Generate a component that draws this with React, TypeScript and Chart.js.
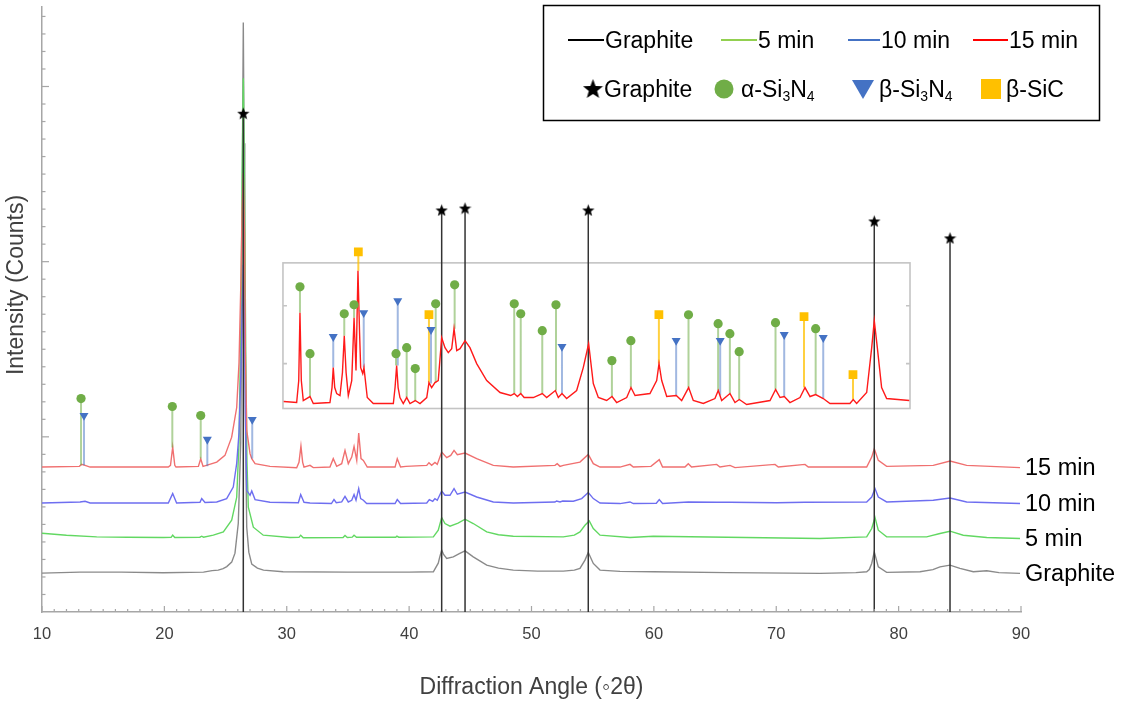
import React, { useEffect, useRef } from "react";
import { Chart, registerables } from "chart.js";

Chart.register(...registerables);

const FONT = '"Liberation Sans", Arial, Helvetica, sans-serif';

// ---------- axis / labels ----------
const xTickLabels = [10, 20, 30, 40, 50, 60, 70, 80, 90];
const X_MIN = 10;
const X_MAX = 90;
const Y_MAX = 607;
const Y_MINOR = 17.56; // one minor tick of the intensity axis (arbitrary counts)
const xTitle = "Diffraction Angle (\u25E62\u03B8)";
const yTitle = "Intensity (Counts)";
const seriesNames = ["Graphite", "5 min", "10 min", "15 min"];

// ---------- XRD patterns (2θ, intensity incl. stacking offset) ----------
const graphiteCurve: [number, number][] = [
  [10.0, 39], [13.1, 40], [16.5, 40], [19.9, 39.3], [23.2, 40], [23.9, 41.5], [24.4, 42], [24.8, 43.5],
  [25.1, 45.5], [25.5, 50], [25.77, 59], [26.04, 89], [26.24, 170], [26.33, 315], [26.39, 480], [26.45, 591],
  [26.51, 470], [26.57, 300], [26.66, 150], [26.73, 85], [26.9, 60], [27.14, 48], [27.6, 44], [28.1, 42],
  [29.7, 40.3], [35.0, 40], [40.0, 40], [41.98, 40.3], [42.38, 49], [42.5, 55], [42.66, 62], [42.8, 58],
  [43.07, 53.7], [43.61, 55.3], [44.1, 58.5], [44.57, 61.3], [45.24, 55.3], [46.34, 47], [47.3, 44],
  [48.51, 42], [50.5, 41], [52.6, 41], [53.5, 42], [53.96, 43.7], [54.37, 52], [54.64, 59.7], [55.05, 48.7],
  [55.6, 42], [57.23, 40.7], [59.95, 40.3], [66.0, 39.5], [73.57, 38.7], [76.5, 39.5], [77.39, 40.3],
  [77.6, 42.5], [77.8, 48.7], [78.01, 60.3], [78.34, 45.3], [79.02, 39.7], [81.75, 40.3], [82.8, 42.5],
  [83.38, 45.3], [84.2, 47], [85.01, 43.7], [86.1, 40.3], [87.2, 41.3], [88.2, 39.5], [89.92, 38.7],
];

const min5Curve: [number, number][] = [
  [10.0, 79], [12.0, 77], [14.47, 75.3], [17.0, 75], [19.91, 74.7], [20.55, 74.8], [20.68, 77], [20.85, 74.7],
  [22.9, 75], [23.05, 76], [23.2, 75], [24.0, 77], [24.82, 80.3], [25.5, 92], [25.91, 115], [26.1, 170],
  [26.25, 290], [26.35, 430], [26.45, 535], [26.55, 420], [26.65, 260], [26.75, 150], [26.86, 105],
  [27.27, 85], [28.08, 77], [30.27, 74.7], [31.0, 74.8], [31.14, 77], [31.35, 74.5], [34.6, 74.7],
  [34.76, 76.7], [34.95, 74.7], [35.35, 75], [35.5, 77], [35.7, 75], [38.9, 75], [39.0, 76], [39.15, 75],
  [41.98, 75.3], [42.38, 82], [42.66, 94.7], [42.93, 88.7], [43.34, 86], [44.0, 89], [44.57, 93],
  [45.24, 88.7], [46.34, 80.3], [47.3, 77.5], [48.51, 76], [52.6, 75.3], [53.5, 77], [53.96, 80.3],
  [54.37, 87], [54.72, 91.3], [55.05, 83.7], [55.6, 77], [58.05, 74.7], [59.95, 76], [66.0, 75],
  [73.57, 73.7], [77.39, 75.3], [77.8, 83.7], [78.07, 94.7], [78.34, 82], [79.02, 75.3], [82.29, 75.3],
  [83.38, 78.7], [84.2, 81], [85.28, 77], [87.2, 74.7], [89.92, 73.7],
];

const min10Curve: [number, number][] = [
  [10.0, 109.3], [13.11, 110.3], [13.52, 111], [13.93, 109.3], [20.32, 109.3], [20.68, 118.7], [21.0, 109.3],
  [22.91, 110], [23.05, 113.7], [23.32, 109.7], [24.28, 110.3], [25.09, 113.7], [25.63, 125.3], [25.91, 149],
  [26.1, 180], [26.25, 240], [26.35, 300], [26.45, 348], [26.55, 290], [26.62, 200], [26.73, 122], [27.0, 117],
  [27.14, 121.3], [27.41, 112.7], [28.63, 110], [30.95, 109.5], [31.14, 117.7], [31.41, 110], [31.9, 109.3],
  [33.65, 108.7], [33.86, 112.7], [34.05, 109.5], [34.49, 110.3], [34.76, 116], [35.03, 110.3], [35.31, 112],
  [35.5, 117.7], [35.66, 112], [35.88, 123.7], [36.04, 113.7], [36.26, 112], [36.53, 108.7], [38.85, 108.7],
  [39.03, 112.7], [39.3, 108.7], [41.44, 109.3], [41.65, 112.7], [41.93, 111], [42.11, 113.7], [42.3, 112],
  [42.66, 121.3], [42.93, 117], [43.34, 117], [43.67, 123.7], [43.94, 118], [44.57, 120.3], [45.52, 115.3],
  [46.88, 110.3], [48.51, 109.3], [51.92, 110.3], [52.05, 111.3], [52.33, 110.3], [52.55, 111.3], [53.42, 111],
  [54.1, 113.7], [54.64, 119.7], [55.05, 113.7], [55.6, 109.3], [57.23, 108.7], [58.05, 110.3], [58.32, 108.7],
  [60.2, 109], [60.44, 112.7], [60.71, 108.7], [62.81, 110.3], [65.13, 110], [66.22, 110], [70.03, 109.5],
  [72.35, 110], [77.39, 110.3], [77.8, 115.3], [78.07, 123.7], [78.34, 115.3], [79.02, 110.3], [82.83, 112],
  [84.2, 114.3], [85.56, 110.3], [89.92, 108.7],
];

const min15Curve: [number, number][] = [
  [10.0, 145.3], [13.05, 146], [13.24, 148], [13.52, 147], [13.93, 145.3], [20.32, 145.3], [20.5, 147],
  [20.68, 165.3], [20.85, 147], [20.95, 145.3], [22.78, 146], [22.97, 153.7], [23.16, 146], [23.43, 147],
  [24.28, 150.3], [24.95, 157], [25.5, 175.3], [25.91, 205], [26.1, 250], [26.25, 330], [26.35, 400],
  [26.45, 440], [26.55, 380], [26.62, 260], [26.73, 182], [27.0, 158.7], [27.14, 153.7], [27.41, 148.7],
  [28.63, 146], [30.81, 144.7], [31.0, 150], [31.16, 166.3], [31.3, 150], [31.41, 145.3], [31.9, 147],
  [32.17, 144.7], [33.53, 145.3], [33.8, 153.7], [34.08, 146], [34.49, 148.7], [34.76, 162], [35.03, 148.7],
  [35.31, 155.3], [35.5, 166], [35.72, 152], [35.88, 179.3], [36.07, 153.7], [36.26, 152], [36.58, 145.3],
  [38.85, 145.3], [39.03, 153.7], [39.3, 145.3], [39.74, 146], [41.44, 147], [41.62, 149.7], [41.84, 147],
  [42.11, 150], [42.3, 148], [42.66, 160.3], [43.07, 154.7], [43.4, 157], [43.67, 162], [43.94, 157.7],
  [44.57, 159.3], [45.52, 153.7], [46.88, 147], [48.51, 145.3], [51.92, 147], [52.1, 148.7], [52.33, 146],
  [52.6, 147], [53.96, 150.3], [54.64, 158], [55.05, 148.7], [55.6, 145.3], [57.23, 145.3], [58.05, 148],
  [58.32, 145.3], [59.76, 146], [60.44, 152.7], [60.71, 145.3], [62.54, 145.3], [62.81, 148.7], [63.08, 145.3],
  [65.13, 148], [65.4, 145.3], [66.22, 147], [66.63, 144.7], [69.9, 148], [70.17, 145.3], [72.35, 148],
  [72.62, 145.3], [77.39, 145.3], [77.8, 155.3], [78.01, 163.7], [78.34, 152], [79.02, 146], [82.83, 147],
  [84.2, 151.3], [85.56, 147], [89.92, 144.7],
];

// magnified 15 min pattern shown in the inset (same 2θ scale)
const inset15Curve: [number, number][] = [
  [29.75, 211], [30.81, 210], [30.98, 232], [31.08, 300], [31.19, 232], [31.35, 212], [31.9, 216], [32.17, 209],
  [33.53, 210], [33.7, 225], [33.8, 245], [33.92, 225], [34.08, 219], [34.35, 217], [34.55, 240], [34.7, 277],
  [34.85, 240], [35.03, 217], [35.31, 232], [35.5, 295], [35.66, 242], [35.82, 342], [35.95, 280], [36.04, 245],
  [36.21, 239], [36.31, 245], [36.58, 215], [37.07, 209], [38.71, 209], [38.85, 225], [38.98, 247], [39.1, 225],
  [39.25, 215], [39.52, 209], [39.8, 215], [40.07, 209], [40.5, 212], [40.89, 209], [41.44, 215], [41.62, 230],
  [41.84, 225], [42.11, 230], [42.38, 232], [42.66, 275], [42.93, 265], [43.2, 260], [43.48, 264], [43.67, 284],
  [43.89, 262], [44.16, 264], [44.57, 272], [44.97, 265], [45.52, 249], [46.34, 232], [47.43, 220], [48.3, 217],
  [48.59, 219], [48.85, 216], [49.12, 219], [49.4, 215], [50.15, 215], [50.88, 219], [51.24, 215], [51.95, 222],
  [52.19, 215], [52.49, 219], [52.87, 214], [53.69, 222], [54.23, 245], [54.67, 269], [55.05, 229], [55.46, 215],
  [56.14, 212], [56.58, 216], [56.96, 210], [57.78, 215], [58.13, 225], [58.46, 217], [59.68, 219], [60.23, 232],
  [60.42, 249], [60.64, 232], [61.05, 216], [61.83, 217], [62.27, 212], [62.84, 225], [63.22, 212], [64.04, 209],
  [64.99, 214], [65.26, 222], [65.54, 212], [66.22, 219], [66.63, 210], [66.98, 213], [67.58, 208], [69.49, 212],
  [69.95, 223], [70.31, 215], [70.66, 216], [71.12, 210], [71.94, 215], [72.35, 225], [72.76, 216], [73.22, 218],
  [73.84, 214], [74.39, 209], [76.02, 209], [76.29, 213], [76.57, 209], [77.39, 220], [77.8, 265], [78.01, 292],
  [78.26, 265], [78.61, 225], [79.02, 214], [80.87, 212],
];

// inset frame (2θ range, intensity range, frame ticks)
const insetAngles = [29.69, 80.93];
const insetLevels = [204, 350];
const insetFrameTicks = [249, 307];

// ---------- phase identification (2θ, marker height, stem base) ----------
const graphitePeaks: [number, number][] = [
  [26.45, 500], [42.66, 403], [44.57, 405], [54.64, 403], [78.01, 392], [84.2, 375],
];
const alphaSi3N4: [number, number, number][] = [
  [13.19, 214, 147], [20.65, 206, 165], [22.97, 197, 154], [31.08, 326, 300], [31.9, 259, 216],
  [34.7, 299, 277], [35.5, 308, 295], [38.93, 259, 247], [39.8, 265, 215], [40.5, 244, 212],
  [42.17, 309, 230], [43.72, 328, 284], [48.59, 309, 219], [49.12, 299, 219], [50.88, 282, 219],
  [52.0, 308, 222], [56.57, 252, 216], [58.12, 272, 225], [62.83, 298, 225], [65.25, 289, 222],
  [66.21, 279, 219], [66.97, 261, 213], [69.94, 290, 223], [73.22, 284, 218],
];
const betaSi3N4: [number, number, number][] = [
  [13.43, 197, 147], [23.51, 173, 146], [27.18, 193, 154], [33.8, 276, 245], [36.29, 300, 245],
  [39.07, 312, 247], [41.79, 283, 229], [52.49, 266, 219], [61.82, 272, 217], [65.42, 272, 217],
  [70.65, 278, 216], [73.84, 275, 214],
];
const betaSiC: [number, number, number][] = [
  [35.85, 361, 342], [41.62, 298, 230], [60.41, 298, 249], [72.27, 296, 225], [76.27, 238, 213],
];

// ---------- styles ----------
const curveColors = ["#8a8a8a", "#62d862", "#6e6ef0", "#f07070"];
const insetColor = "#ff1a1a";
const ALPHA = "#70ad47";
const BETA = "#4472c4";
const SIC = "#ffc000";
const legendLineColors = ["#000000", "#92d050", "#4472c4", "#ff0000"];

function makeStar(size: number, color: string): HTMLCanvasElement {
  const c = document.createElement("canvas");
  c.width = size;
  c.height = size;
  const g = c.getContext("2d")!;
  const cx = size / 2;
  const cy = size / 2 + size * 0.05;
  const R = size / 2;
  const r = R * 0.42;
  g.beginPath();
  for (let i = 0; i < 10; i++) {
    const a = -Math.PI / 2 + (i * Math.PI) / 5;
    const rr = i % 2 === 0 ? R : r;
    g.lineTo(cx + rr * Math.cos(a), cy + rr * Math.sin(a));
  }
  g.closePath();
  g.fillStyle = color;
  g.fill();
  return c;
}

type Part = [string, boolean];
function drawRich(ctx: CanvasRenderingContext2D, x: number, yMid: number, parts: Part[], size: number) {
  const base = yMid + size * 0.36;
  let cx = x;
  ctx.textAlign = "left";
  ctx.textBaseline = "alphabetic";
  for (const [t, sub] of parts) {
    const s = sub ? Math.round(size * 0.62) : size;
    ctx.font = `${s}px ${FONT}`;
    ctx.fillText(t, cx, sub ? base + size * 0.18 : base);
    cx += ctx.measureText(t).width;
  }
}

const line = (label: string, pts: [number, number][], color: string, width: number, order: number) => ({
  type: "line" as const,
  label,
  data: pts.map(([x, y]) => ({ x, y })),
  borderColor: color,
  borderWidth: width,
  pointRadius: 0,
  tension: 0,
  fill: false,
  order,
});

const stems = (label: string, list: [number, number, number][], color: string, width: number, order: number) => ({
  type: "line" as const,
  label,
  data: list.flatMap(([x, top, base]) => [{ x, y: base }, { x, y: top }, { x, y: null as any }]),
  borderColor: color,
  borderWidth: width,
  pointRadius: 0,
  spanGaps: false,
  fill: false,
  order,
});

const markers = (label: string, list: [number, number, ...number[]][], style: any, color: string, radius: number, rotation: number, order: number) => ({
  type: "line" as const,
  label,
  data: list.map(([x, top]) => ({ x, y: top })),
  showLine: false,
  pointStyle: style,
  pointRadius: radius,
  pointBackgroundColor: color,
  pointBorderColor: color,
  pointBorderWidth: 0,
  pointRotation: rotation,
  order,
});

export default function App() {
  const ref = useRef<HTMLCanvasElement>(null);

  useEffect(() => {
    if (!ref.current) return;
    const star = makeStar(13, "#000");
    const legendStar = makeStar(21, "#000");
    const curves = [graphiteCurve, min5Curve, min10Curve, min15Curve];

    const frameAndTicks = {
      id: "frameAndTicks",
      beforeDatasetsDraw(chart: any) {
        const { ctx, scales } = chart;
        const x = scales.x;
        const y = scales.y;
        ctx.save();
        // inset frame
        const l = x.getPixelForValue(insetAngles[0]);
        const r = x.getPixelForValue(insetAngles[1]);
        const b = y.getPixelForValue(insetLevels[0]);
        const t = y.getPixelForValue(insetLevels[1]);
        ctx.strokeStyle = "#c4c4c4";
        ctx.lineWidth = 1.6;
        ctx.strokeRect(l, t, r - l, b - t);
        for (const v of insetFrameTicks) {
          const py = y.getPixelForValue(v);
          ctx.beginPath();
          ctx.moveTo(l, py);
          ctx.lineTo(l + 4, py);
          ctx.moveTo(r, py);
          ctx.lineTo(r - 4, py);
          ctx.stroke();
        }
        ctx.restore();
      },
      afterDatasetsDraw(chart: any) {
        const { ctx, scales, chartArea } = chart;
        const x = scales.x;
        const y = scales.y;
        ctx.save();
        ctx.strokeStyle = "#a6a6a6";
        ctx.lineWidth = 1.2;
        for (let v = X_MIN; v <= X_MAX; v += 1) {
          const px = x.getPixelForValue(v);
          const len = v % 10 === 0 ? 6 : 3;
          ctx.beginPath();
          ctx.moveTo(px, chartArea.bottom);
          ctx.lineTo(px, chartArea.bottom - len);
          ctx.stroke();
        }
        for (let k = 1; k * Y_MINOR <= Y_MAX; k++) {
          const py = y.getPixelForValue(k * Y_MINOR);
          const len = k % 10 === 0 ? 7 : 3.5;
          ctx.beginPath();
          ctx.moveTo(chartArea.left, py);
          ctx.lineTo(chartArea.left + len, py);
          ctx.stroke();
        }
        // series names at the end of each pattern
        ctx.fillStyle = "#000";
        ctx.font = `23.5px ${FONT}`;
        ctx.textAlign = "left";
        ctx.textBaseline = "middle";
        curves.forEach((c, i) => {
          const last = c[c.length - 1];
          ctx.fillText(seriesNames[i], x.getPixelForValue(X_MAX) + 4, y.getPixelForValue(last[1]) + 1);
        });
        // y-axis title
        ctx.save();
        ctx.translate(17, 285);
        ctx.rotate(-Math.PI / 2);
        ctx.fillStyle = "#404040";
        ctx.font = `23px ${FONT}`;
        ctx.textAlign = "center";
        ctx.textBaseline = "middle";
        ctx.fillText(yTitle, 0, 0);
        ctx.restore();
        ctx.restore();
      },
      afterDraw(chart: any) {
        const { ctx } = chart;
        ctx.save();
        // legend box
        ctx.fillStyle = "#fff";
        ctx.fillRect(543, 5, 557, 116);
        ctx.strokeStyle = "#000";
        ctx.lineWidth = 1.5;
        ctx.strokeRect(543.5, 5.5, 556, 115);
        const row1 = 40;
        const row2 = 89;
        const fs = 23;
        const lineItems: [number, number, number][] = [
          [568, 604, 605], [721, 757, 758], [848, 880, 881], [973, 1008, 1009],
        ];
        lineItems.forEach(([a, b, tx], i) => {
          ctx.strokeStyle = legendLineColors[i];
          ctx.lineWidth = 2;
          ctx.beginPath();
          ctx.moveTo(a, row1);
          ctx.lineTo(b, row1);
          ctx.stroke();
          ctx.fillStyle = "#000";
          drawRich(ctx, tx, row1, [[seriesNames[i], false]], fs);
        });
        // row 2: phase symbols
        ctx.drawImage(legendStar, 593 - 10.5, row2 - 11);
        ctx.fillStyle = "#000";
        drawRich(ctx, 604, row2, [["Graphite", false]], fs);
        ctx.fillStyle = ALPHA;
        ctx.beginPath();
        ctx.arc(724, row2, 9.5, 0, Math.PI * 2);
        ctx.fill();
        ctx.fillStyle = "#000";
        drawRich(ctx, 741, row2, [["\u03B1-Si", false], ["3", true], ["N", false], ["4", true]], fs);
        ctx.fillStyle = BETA;
        ctx.beginPath();
        ctx.moveTo(852, row2 - 9);
        ctx.lineTo(874, row2 - 9);
        ctx.lineTo(863, row2 + 10);
        ctx.closePath();
        ctx.fill();
        ctx.fillStyle = "#000";
        drawRich(ctx, 879, row2, [["\u03B2-Si", false], ["3", true], ["N", false], ["4", true]], fs);
        ctx.fillStyle = SIC;
        ctx.fillRect(981, row2 - 10, 20, 20);
        ctx.fillStyle = "#000";
        drawRich(ctx, 1006, row2, [["\u03B2-SiC", false]], fs);
        ctx.restore();
      },
    };

    const chart = new Chart(ref.current, {
      type: "line",
      data: {
        datasets: [
          markers("Graphite peaks", graphitePeaks, star, "#000", 6.5, 0, 0),
          markers("\u03B1-Si3N4", alphaSi3N4, "circle", ALPHA, 4.6, 0, 0),
          markers("\u03B2-Si3N4", betaSi3N4, "triangle", BETA, 5.2, 180, 0),
          markers("\u03B2-SiC", betaSiC, "rect", SIC, 6.2, 0, 0),
          line("15 min (inset)", inset15Curve, insetColor, 1.4, 1),
          stems("\u03B1 stems", alphaSi3N4, "rgba(112,173,71,0.55)", 2, 2),
          stems("\u03B2 stems", betaSi3N4, "rgba(68,114,196,0.5)", 2, 2),
          stems("SiC stems", betaSiC, "rgba(255,192,0,0.75)", 2, 2),
          stems("graphite stems", graphitePeaks.map(([x, h]) => [x, h, 0] as [number, number, number]), "#333333", 1.5, 3),
          line(seriesNames[3], min15Curve, curveColors[3], 1.4, 4),
          line(seriesNames[2], min10Curve, curveColors[2], 1.4, 5),
          line(seriesNames[1], min5Curve, curveColors[1], 1.4, 6),
          line(seriesNames[0], graphiteCurve, curveColors[0], 1.4, 7),
        ] as any,
      },
      options: {
        animation: false,
        responsive: false,
        maintainAspectRatio: false,
        events: [],
        layout: { padding: { top: 5, right: 105, left: 0, bottom: 0 } },
        plugins: { legend: { display: false }, tooltip: { enabled: false } },
        scales: {
          x: {
            type: "linear",
            min: X_MIN,
            max: X_MAX,
            afterBuildTicks: (s: any) => {
              s.ticks = xTickLabels.map((v) => ({ value: v }));
            },
            ticks: { font: { family: FONT, size: 16.5 }, color: "#404040", padding: 13, maxRotation: 0, autoSkip: false },
            grid: { display: false, drawTicks: false },
            border: { display: true, color: "#a6a6a6", width: 1.5 },
            title: { display: true, text: xTitle, font: { family: FONT, size: 23 }, color: "#404040", padding: { top: 0, bottom: 0 } },
            afterFit: (s: any) => {
              s.height = 89;
            },
          },
          y: {
            type: "linear",
            min: 0,
            max: Y_MAX,
            ticks: { display: false },
            grid: { display: false, drawTicks: false },
            border: { display: true, color: "#a6a6a6", width: 1.5 },
            title: { display: false },
            afterFit: (s: any) => {
              s.width = 42;
            },
          },
        },
      } as any,
      plugins: [frameAndTicks],
    });
    return () => chart.destroy();
  }, []);

  return (
    <div style={{ position: "absolute", left: 0, top: 0, width: 1126, height: 701, background: "#fff" }}>
      <canvas ref={ref} width={1126} height={701} style={{ display: "block" }} />
    </div>
  );
}
